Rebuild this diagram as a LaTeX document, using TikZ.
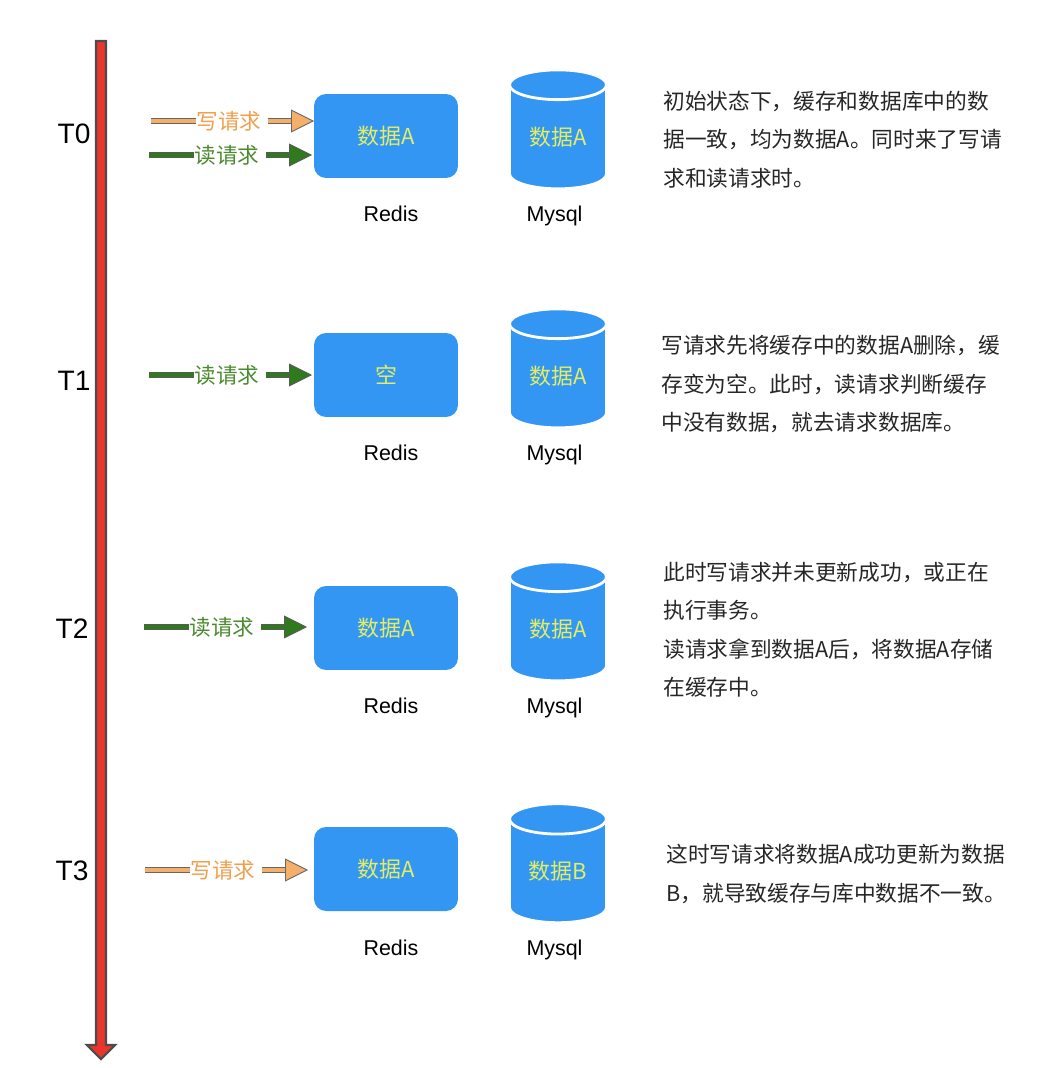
\documentclass[tikz,border=0pt]{standalone}
\usepackage{fontspec}
\setmainfont{Liberation Sans}
\newfontfamily\cjkfont{Noto Sans CJK SC}
\usetikzlibrary{arrows.meta, shapes.geometric}
\definecolor{boxblue}{HTML}{3396F3}
\definecolor{datayellow}{HTML}{E3EE62}
\definecolor{writeorange}{HTML}{F4B06A}
\definecolor{writetext}{HTML}{EFA04E}
\definecolor{readgreen}{HTML}{2F7A1C}
\definecolor{readtext}{HTML}{4C8A30}
\definecolor{timered}{HTML}{E9352C}
\definecolor{bodytext}{HTML}{262626}
\tikzset{
    redisbox/.style={
        fill=boxblue, rounded corners=0.24cm, minimum width=2.88cm, minimum height=1.68cm,
        text=datayellow, font=\cjkfont\fontsize{12.5}{14}\selectfont
    },
    mysqlcyl/.style={
        cylinder, shape border rotate=90, aspect=0.52, fill=boxblue, draw=white, line width=1.6pt,
        minimum width=1.94cm, minimum height=2.38cm, inner sep=0pt,
        text=datayellow, font=\cjkfont\fontsize{12.5}{14}\selectfont
    },
    namelabel/.style={text=black, font=\fontsize{12.2}{14}\selectfont},
    timelabel/.style={text=black, font=\fontsize{16}{18}\selectfont},
    desctext/.style={
        anchor=north west, inner sep=0pt, align=left, text=bodytext,
        font=\cjkfont\fontsize{12.35}{21.8}\selectfont
    },
    writelabel/.style={text=writetext, inner sep=0pt, font=\cjkfont\fontsize{12.3}{14}\selectfont},
    readlabel/.style={text=readtext, inner sep=0pt, font=\cjkfont\fontsize{12.3}{14}\selectfont},
    writeline/.style={draw=black!60, line width=0.6pt, double=writeorange, double distance=2pt},
    readline/.style={draw=black!65, line width=0.6pt, double=readgreen, double distance=2pt},
    writetip/.style={-{Triangle[length=0.46cm, width=0.46cm, fill=writeorange, line width=0.5pt]}},
    readtip/.style={-{Triangle[length=0.46cm, width=0.46cm, fill=readgreen, line width=0.5pt]}}
}
\begin{document}
\begin{tikzpicture}[x=0.02cm, y=-0.02cm]
	\useasboundingbox (0,0) rectangle (1050,1068);

	% axe du temps
	\draw[fill=timered, draw=black!70, line width=1.2pt, line join=miter]
		(96,41) -- (106,41) -- (106,1045) -- (115,1045) -- (101,1059) -- (87,1045) -- (96,1045) -- cycle;
	\node[timelabel] (timeA) at (74,134) {T0};
	\node[timelabel] (timeB) at (74,381) {T1};
	\node[timelabel] (timeC) at (72,629) {T2};
	\node[timelabel] (timeD) at (72,871) {T3};

	% cache et base pour chaque instant
	\foreach \name/\yr/\yc/\yl/\txtr/\txtc in {
		A/136/137.5/214/数据A/数据A,
		B/375/376.5/453/空/数据A,
		C/628/629.5/706/数据A/数据A,
		D/869/871.5/948/数据A/数据B}{
		\node[redisbox] (redis\name) at (386,\yr) {\txtr};
		\node[mysqlcyl] (mysql\name) at (558,\yc) {\txtc};
		\node[namelabel] (redisname\name) at (391,\yl) {Redis};
		\node[namelabel] (mysqlname\name) at (554.5,\yl+2) {Mysql};
	}

	% requêtes
	\node[writelabel] (writeA) at (229,121) {写请求};
	\coordinate (writeAstart) at (151,121);
	\coordinate (writeAend) at (314,121);
	\draw[writeline] (writeAstart) -- (writeA);
	\draw[writeline, writetip] ([xshift=0.12cm]writeA.east) -- (writeAend);

	\node[readlabel] (readA) at (227,155) {读请求};
	\coordinate (readAstart) at (149,155);
	\coordinate (readAend) at (312,155);
	\draw[readline] (readAstart) -- (readA);
	\draw[readline, readtip] ([xshift=0.12cm]readA.east) -- (readAend);

	\node[readlabel] (readB) at (227,375) {读请求};
	\coordinate (readBstart) at (149,375);
	\coordinate (readBend) at (312,375);
	\draw[readline] (readBstart) -- (readB);
	\draw[readline, readtip] ([xshift=0.12cm]readB.east) -- (readBend);

	\node[readlabel] (readC) at (222,627) {读请求};
	\coordinate (readCstart) at (144,627);
	\coordinate (readCend) at (307,627);
	\draw[readline] (readCstart) -- (readC);
	\draw[readline, readtip] ([xshift=0.12cm]readC.east) -- (readCend);

	\node[writelabel] (writeD) at (223,870) {写请求};
	\coordinate (writeDstart) at (145,870);
	\coordinate (writeDend) at (308,870);
	\draw[writeline] (writeDstart) -- (writeD);
	\draw[writeline, writetip] ([xshift=0.12cm]writeD.east) -- (writeDend);

	% explications
	\node[desctext] (descA) at (663,91) {初始状态下，缓存和数据库中的数\\据一致，均为数据A。同时来了写请\\求和读请求时。};
	\node[desctext] (descB) at (661,335) {写请求先将缓存中的数据A删除，缓\\存变为空。此时，读请求判断缓存\\中没有数据，就去请求数据库。};
	\node[desctext] (descC) at (663,562) {此时写请求并未更新成功，或正在\\执行事务。\\读请求拿到数据A后，将数据A存储\\在缓存中。};
	\node[desctext] (descD) at (666,844) {这时写请求将数据A成功更新为数据\\B，就导致缓存与库中数据不一致。};

\end{tikzpicture}
\end{document}
